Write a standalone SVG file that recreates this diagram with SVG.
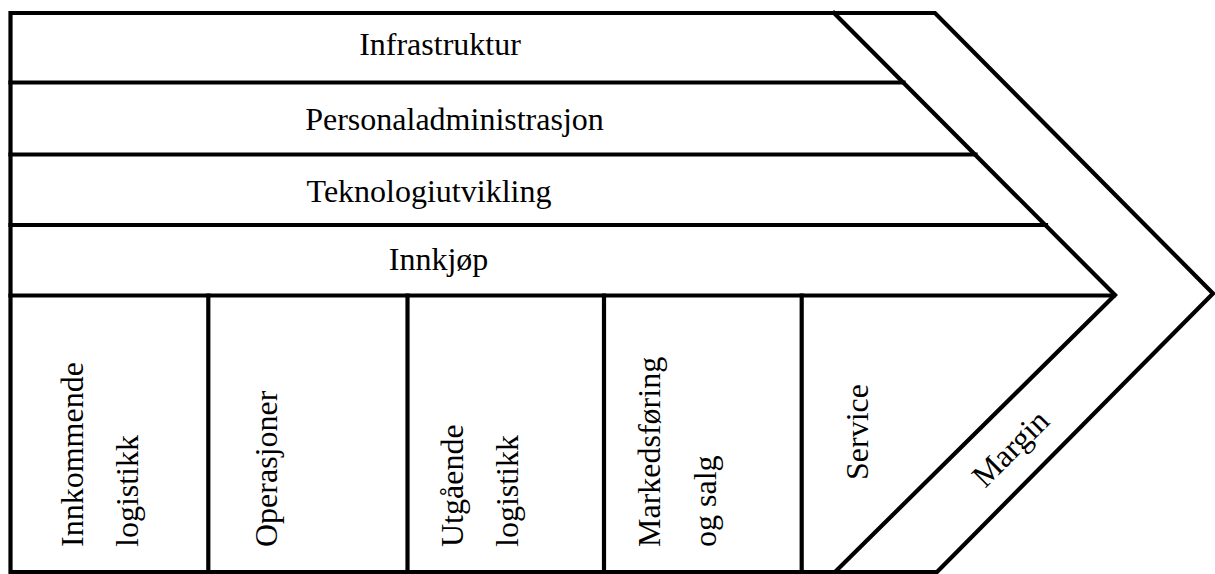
<svg xmlns="http://www.w3.org/2000/svg" width="1215" height="574" viewBox="0 0 1215 574">
<style>
.ln{fill:none;stroke:#000;stroke-width:4.2;stroke-linejoin:miter;stroke-linecap:square}
.t{font-family:"Liberation Serif","Times New Roman",serif;font-size:32px;fill:#000}
.m{text-anchor:middle}
</style>
<rect x="0" y="0" width="1215" height="574" fill="#fff"/>
<g id="frame">
<polygon class="ln" points="10.5,13 935,13 1213,293.5 937,572 10.5,572"/>
<polyline class="ln" points="834,13 1115,295 835,572"/>
</g>
<g id="infrastruktur">
<text class="t m" x="440" y="55">Infrastruktur</text>
</g>
<g id="personaladministrasjon">
<line class="ln" x1="10.5" y1="82.5" x2="903.5" y2="82.5"/>
<text class="t m" x="454.5" y="129.5">Personaladministrasjon</text>
</g>
<g id="teknologiutvikling">
<line class="ln" x1="10.5" y1="154.5" x2="975.5" y2="154.5"/>
<text class="t m" x="429" y="201.5">Teknologiutvikling</text>
</g>
<g id="innkjop">
<line class="ln" x1="10.5" y1="225" x2="1046" y2="225"/>
<text class="t m" x="438.5" y="270">Innkjøp</text>
</g>
<g id="primary-base">
<line class="ln" x1="10.5" y1="295.5" x2="1114" y2="295.5"/>
</g>
<g id="innkommende-logistikk">
<text class="t" transform="translate(83,547) rotate(-90)">Innkommende</text>
<text class="t" transform="translate(138,547) rotate(-90)">logistikk</text>
</g>
<g id="operasjoner">
<line class="ln" x1="208.3" y1="295.5" x2="208.3" y2="572"/>
<text class="t" transform="translate(277,547) rotate(-90)">Operasjoner</text>
</g>
<g id="utgaende-logistikk">
<line class="ln" x1="407.5" y1="295.5" x2="407.5" y2="572"/>
<text class="t" transform="translate(463,547) rotate(-90)">Utgående</text>
<text class="t" transform="translate(518,547) rotate(-90)">logistikk</text>
</g>
<g id="markedsforing-og-salg">
<line class="ln" x1="604" y1="295.5" x2="604" y2="572"/>
<text class="t" transform="translate(660,547) rotate(-90)">Markedsføring</text>
<text class="t" transform="translate(716,547) rotate(-90)">og salg</text>
</g>
<g id="service">
<line class="ln" x1="801.7" y1="295.5" x2="801.7" y2="572"/>
<text class="t" transform="translate(868,480) rotate(-90)">Service</text>
</g>
<g id="margin">
<text class="t m" transform="translate(1018,456) rotate(-45)">Margin</text>
</g>
<g id="connectors"></g>
</svg>
